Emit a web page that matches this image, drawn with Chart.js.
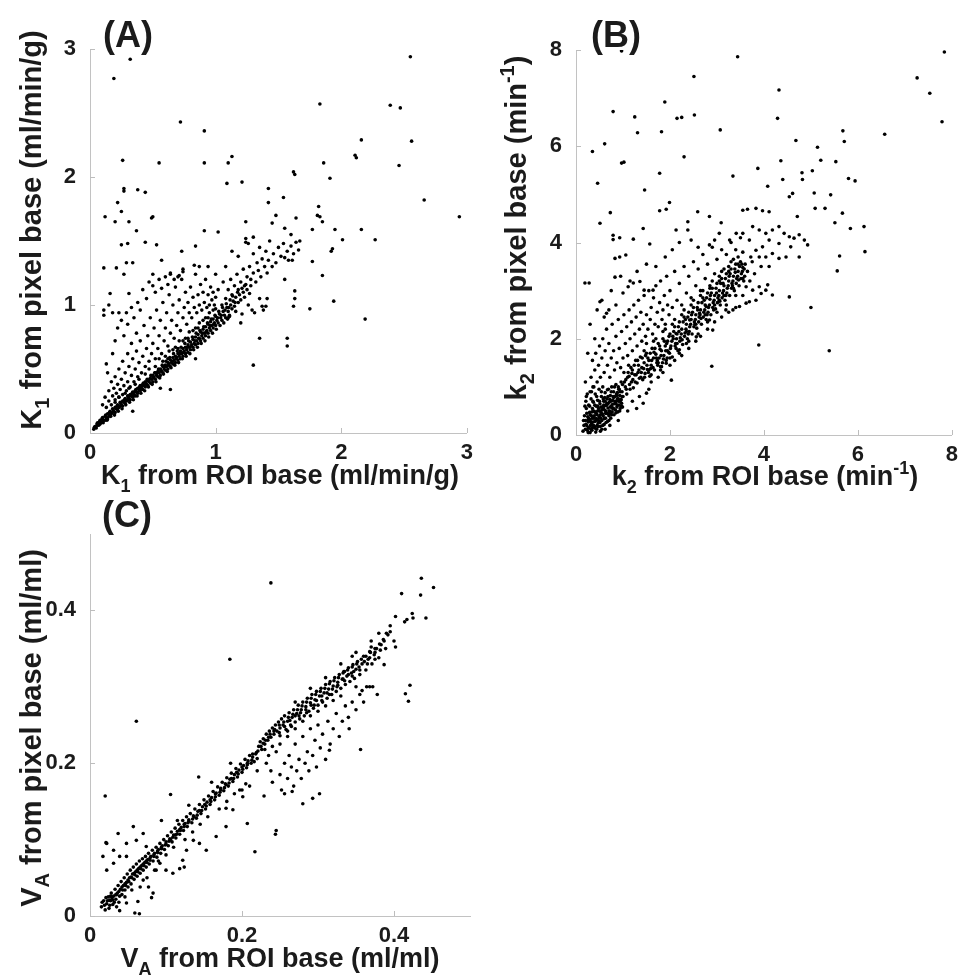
<!DOCTYPE html>
<html>
<head>
<meta charset="utf-8">
<script src="https://cdn.jsdelivr.net/npm/chart.js@4.4.1/dist/chart.umd.min.js"></script>
<style>
  html, body { margin: 0; padding: 0; background: #fff; }
  body { width: 965px; height: 979px; position: relative; overflow: hidden; }
  canvas { position: absolute; }
  #chartA { left: 0; top: 0; }
  #chartB { left: 480px; top: 0; }
  #chartC { left: 0; top: 500px; }
</style>
</head>
<body>
<canvas id="chartA" width="480" height="500"></canvas>
<canvas id="chartB" width="485" height="500"></canvas>
<canvas id="chartC" width="480" height="479"></canvas>
<script>
// tick values
const k1Ticks = [0, 1, 2, 3];
const k2Ticks = [0, 2, 4, 6, 8];
const vaTicks = [0, 0.2, 0.4];

// (A) K1: [ROI base, pixel base]
const k1CorePoints = [
  [0.03,0.03],[0.04,0.05],[0.05,0.04],[0.06,0.06],[0.06,0.08],[0.07,0.06],[0.08,0.07],[0.08,0.1],[0.09,0.08],[0.1,0.09],
  [0.1,0.12],[0.11,0.1],[0.12,0.1],[0.12,0.13],[0.13,0.12],[0.14,0.11],[0.14,0.15],[0.15,0.13],[0.16,0.14],[0.16,0.17],
  [0.17,0.15],[0.18,0.16],[0.18,0.19],[0.19,0.17],[0.2,0.16],[0.2,0.2],[0.21,0.19],[0.22,0.18],[0.22,0.22],[0.23,0.2],
  [0.24,0.21],[0.24,0.24],[0.25,0.22],[0.26,0.21],[0.26,0.25],[0.27,0.24],[0.28,0.23],[0.28,0.27],[0.29,0.25],[0.3,0.26],
  [0.3,0.29],[0.31,0.27],[0.32,0.26],[0.32,0.3],[0.33,0.29],[0.34,0.28],[0.34,0.32],[0.35,0.3],[0.36,0.29],[0.36,0.33],
  [0.37,0.32],[0.38,0.31],[0.38,0.35],[0.39,0.33],[0.4,0.33],[0.4,0.37],[0.41,0.35],[0.42,0.34],[0.42,0.38],[0.43,0.37],
  [0.44,0.36],[0.44,0.4],[0.45,0.38],[0.46,0.37],[0.46,0.41],[0.47,0.4],[0.48,0.39],[0.48,0.43],[0.49,0.42],[0.5,0.4],
  [0.5,0.45],[0.51,0.43],[0.52,0.42],[0.52,0.47],[0.53,0.45],[0.54,0.44],[0.54,0.48],[0.55,0.47],[0.56,0.45],[0.56,0.5],
  [0.57,0.48],[0.58,0.47],[0.58,0.52],[0.59,0.5],[0.6,0.49],[0.6,0.53],[0.61,0.52],[0.62,0.5],[0.62,0.55],[0.63,0.54],
  [0.64,0.52],[0.64,0.57],[0.65,0.55],[0.66,0.54],[0.66,0.59],[0.67,0.57],[0.68,0.55],[0.68,0.6],[0.69,0.59],[0.7,0.57],
  [0.7,0.62],[0.71,0.6],[0.72,0.58],[0.72,0.64],[0.73,0.62],[0.74,0.6],[0.74,0.66],[0.75,0.64],[0.76,0.62],[0.76,0.67],
  [0.77,0.65],[0.78,0.63],[0.78,0.69],[0.79,0.67],[0.8,0.65],[0.8,0.71],[0.81,0.69],[0.82,0.67],[0.82,0.73],[0.83,0.7],
  [0.84,0.69],[0.84,0.75],[0.85,0.72],[0.86,0.7],[0.86,0.77],[0.87,0.74],[0.88,0.72],[0.88,0.79],[0.89,0.76],[0.9,0.74],
  [0.9,0.81],[0.91,0.78],[0.92,0.76],[0.92,0.83],[0.93,0.8],[0.94,0.78],[0.94,0.85],[0.95,0.82],[0.96,0.8],[0.96,0.87],
  [0.97,0.84],[0.98,0.82],[0.98,0.89],[0.99,0.86],[1.0,0.84],[1.0,0.91],[1.01,0.88],[1.02,0.86],[1.03,0.93],[1.04,0.9],
  [1.05,0.88],[1.06,0.95],[1.07,0.92],[1.08,0.9],[1.09,0.98],[1.1,0.95],[1.11,0.92],[1.12,1.0],[1.13,0.97],[1.14,1.03],
  [1.15,0.99],[1.16,1.06],[1.18,1.02],[1.19,1.08],[1.2,1.04],[1.22,1.1],[1.23,1.06],[1.25,1.12],[1.27,1.09],[1.28,1.15]
];
const k1CoreFill = [
  [0.035,0.045],[0.055,0.07],[0.075,0.085],[0.095,0.11],[0.105,0.08],[0.125,0.14],[0.135,0.1],[0.155,0.16],[0.165,0.13],[0.185,0.18],
  [0.195,0.14],[0.215,0.21],[0.225,0.17],[0.245,0.23],[0.255,0.19],[0.275,0.26],[0.285,0.22],[0.305,0.28],[0.315,0.24],[0.335,0.31],
  [0.345,0.26],[0.365,0.34],[0.375,0.29],[0.395,0.36],[0.405,0.31],[0.425,0.39],[0.435,0.33],[0.455,0.42],[0.465,0.36],[0.485,0.45],
  [0.495,0.38],[0.515,0.47],[0.525,0.4],[0.545,0.5],[0.555,0.43],[0.575,0.53],[0.585,0.46],[0.605,0.56],[0.615,0.48],[0.635,0.59],
  [0.645,0.51],[0.665,0.62],[0.675,0.53],[0.695,0.64],[0.705,0.55],[0.725,0.67],[0.735,0.58],[0.755,0.7],[0.765,0.6],[0.785,0.72],
  [0.795,0.62],[0.815,0.75],[0.825,0.65],[0.845,0.78],[0.855,0.67],[0.875,0.8],[0.885,0.7],[0.905,0.83],[0.915,0.72],[0.935,0.86],
  [0.945,0.75],[0.965,0.89],[0.975,0.78],[0.995,0.92],[1.005,0.81],[1.025,0.95],[1.035,0.84],[1.055,0.98],[1.065,0.86],[1.085,1.01],
  [1.095,0.89],[1.115,1.04],[1.135,1.07],[1.155,1.02],[1.175,1.1],[1.21,1.13],[1.24,1.16],[0.52,0.52],[0.6,0.6],[0.68,0.67],
  [0.76,0.74],[0.84,0.82],[0.92,0.9],[1.0,0.97],[0.44,0.46],[0.36,0.38],[0.28,0.31],[0.2,0.24],[0.63,0.64],[0.71,0.72],
  [0.79,0.79],[0.87,0.86],[0.95,0.94],[0.55,0.58],[0.47,0.5],[0.39,0.42],[0.31,0.35],[0.23,0.28],
  [0.315,0.29],[0.355,0.32],[0.395,0.34],[0.415,0.37],[0.445,0.39],[0.475,0.42],[0.505,0.44],[0.535,0.47],[0.565,0.49],[0.595,0.52],
  [0.625,0.53],[0.655,0.56],[0.685,0.58],[0.715,0.62],[0.745,0.63],[0.775,0.67],[0.805,0.68],[0.835,0.72],[0.865,0.74],[0.895,0.78],
  [0.925,0.79],[0.955,0.84],[0.985,0.85],[1.015,0.9],[1.045,0.92],[1.075,0.96],[1.105,0.98],[0.58,0.56],[0.66,0.65],[0.74,0.72],
  [0.82,0.8],[0.9,0.88],[0.98,0.96],[0.62,0.58],[0.7,0.66],[0.78,0.74],[0.86,0.82],[0.94,0.9]
];
const k1SpreadPoints = [
  [0.1,0.22],[0.12,0.28],[0.13,0.2],[0.15,0.25],[0.15,0.33],[0.17,0.22],[0.17,0.4],[0.18,0.29],[0.19,0.35],[0.2,0.26],
  [0.2,0.44],[0.21,0.31],[0.22,0.38],[0.23,0.28],[0.23,0.5],[0.24,0.34],[0.25,0.42],[0.26,0.3],[0.26,0.56],[0.27,0.37],
  [0.28,0.47],[0.29,0.33],[0.3,0.4],[0.3,0.62],[0.31,0.52],[0.32,0.36],[0.33,0.45],[0.33,0.7],[0.34,0.58],[0.35,0.4],
  [0.36,0.5],[0.37,0.64],[0.37,0.78],[0.38,0.44],[0.39,0.55],[0.4,0.72],[0.41,0.47],[0.42,0.6],[0.43,0.84],[0.44,0.52],
  [0.45,0.66],[0.46,0.76],[0.47,0.56],[0.48,0.9],[0.49,0.62],[0.5,0.7],[0.51,0.82],[0.52,0.58],[0.53,0.96],[0.54,0.66],
  [0.55,0.76],[0.56,0.88],[0.57,0.62],[0.58,1.02],[0.59,0.72],[0.6,0.82],[0.61,0.94],[0.62,0.68],[0.63,1.08],[0.64,0.78],
  [0.65,0.88],[0.66,1.0],[0.67,0.74],[0.68,1.14],[0.69,0.84],[0.7,0.94],[0.71,1.04],[0.72,0.8],[0.73,1.2],[0.74,0.9],
  [0.75,0.98],[0.76,1.1],[0.77,0.85],[0.78,1.02],[0.79,0.94],[0.8,1.14],[0.81,0.9],[0.82,1.06],[0.83,0.98],[0.84,1.24],
  [0.85,0.94],[0.86,1.08],[0.87,1.0],[0.88,1.16],[0.89,0.96],[0.9,1.1],[0.91,1.02],[0.92,1.2],[0.93,0.98],[0.94,1.08],
  [0.95,1.0],[0.96,1.14],[0.97,1.04],[0.98,1.1],[0.99,1.0],[1.0,1.06],
  [0.13,0.54],[0.14,0.47],[0.18,0.62],[0.2,0.72],[0.22,0.82],[0.25,0.88],[0.27,0.76],[0.3,0.85],[0.33,0.98],[0.35,0.9],
  [0.38,1.02],[0.4,0.96],[0.42,1.12],[0.45,1.05],[0.47,1.18],[0.5,1.15],[0.52,1.1],[0.55,1.2],[0.57,1.13],[0.6,1.22],
  [0.62,1.16],[0.64,1.25],[0.67,1.2],[0.7,1.22],[0.74,1.28],
  [1.02,1.12],[1.05,1.0],[1.06,1.18],[1.08,1.05],[1.1,1.12],[1.1,0.9],[1.12,1.2],[1.13,1.08],[1.15,1.15],[1.16,0.95],
  [1.17,1.24],[1.18,1.12],[1.2,1.18],[1.21,0.93],[1.22,1.28],[1.23,1.15],[1.25,1.22],[1.26,1.0],[1.27,1.3],[1.28,1.2],
  [1.3,1.25],[1.3,1.4],[1.31,0.94],[1.32,1.18],[1.33,1.33],[1.34,1.27],[1.35,1.45],[1.36,1.22],[1.37,1.36],[1.38,0.96],
  [1.39,1.3],[1.4,1.42],[1.41,1.25],[1.42,1.35],[1.43,1.5],[1.45,1.3],[1.46,1.4],[1.48,1.33],[1.5,1.45],[1.52,1.38],
  [1.54,1.48],[1.55,1.2],[1.57,1.42],[1.58,1.35],[1.6,1.46],[1.62,1.4],[1.64,1.49],[1.24,1.52],[1.26,1.48],[1.13,1.42],
  [1.18,1.38],[1.08,1.3],[1.0,1.24],[1.29,0.96],[1.37,0.99],[1.4,0.99],[1.41,1.05],[1.35,1.05],[1.11,0.91],[1.2,0.86]
];
const k1OutlierPoints = [
  [0.32,2.92],[0.19,2.77],[2.55,2.94],[1.83,2.57],[2.39,2.56],[2.47,2.54],[0.72,2.43],[0.91,2.36],[2.16,2.29],[2.56,2.28],
  [2.11,2.17],[2.12,2.15],[0.26,2.13],[0.55,2.11],[0.91,2.11],[1.1,2.11],[1.13,2.16],[1.86,2.11],[2.46,2.09],[1.62,2.04],
  [1.63,2.02],[1.91,1.99],[1.09,1.95],[1.21,1.96],[0.27,1.91],[0.27,1.89],[0.38,1.9],[0.44,1.88],[1.42,1.91],[1.54,1.84],
  [2.66,1.82],[0.22,1.8],[1.42,1.8],[1.82,1.77],[0.25,1.73],[1.48,1.7],[0.12,1.69],[0.49,1.68],[0.5,1.69],[1.64,1.68],
  [1.83,1.69],[1.81,1.7],[2.94,1.69],[0.2,1.65],[0.31,1.65],[1.24,1.65],[1.45,1.64],[1.85,1.65],[1.55,1.6],[1.77,1.59],
  [0.91,1.58],[1.02,1.57],[1.95,1.59],[2.16,1.59],[0.37,1.58],[2.27,1.51],[2.01,1.51],[0.44,1.49],[0.53,1.47],[0.25,1.47],
  [0.3,1.48],[1.24,1.49],[1.3,1.53],[0.84,1.46],[0.73,1.42],[1.92,1.42],[1.93,1.44],[0.57,1.35],[0.29,1.33],[0.34,1.33],
  [1.77,1.34],[0.83,1.31],[0.87,1.3],[0.94,1.3],[0.11,1.29],[0.21,1.29],[0.27,1.24],[0.64,1.24],[0.71,1.23],[0.74,1.26],
  [0.5,1.24],[1.85,1.23],[1.94,1.03],[1.75,0.97],[2.19,0.89],[1.35,0.74],[1.57,0.74],[1.57,0.68],[1.3,0.53],[0.84,0.58],
  [0.56,0.35],[0.64,0.34],[0.34,0.17],[0.11,0.96],[0.11,0.92],[0.15,1.0],[0.18,0.94],[0.23,0.94],[0.29,0.94],[0.16,1.09],
  [0.31,1.09],[1.63,1.11],[1.63,1.05],[1.62,0.99],[1.61,1.35],[1.55,1.37],[1.66,1.43],[1.67,1.5],[1.6,1.55]
];

// (B) k2: [ROI base, pixel base]
const k2BlobPoints = [
  [0.15,0.08],[0.17,0.2],[0.18,0.4],[0.2,0.12],[0.2,0.3],[0.22,0.55],[0.23,0.2],[0.24,0.1],[0.25,0.38],[0.26,0.27],
  [0.27,0.62],[0.28,0.15],[0.29,0.47],[0.3,0.32],[0.31,0.2],[0.32,0.75],[0.33,0.4],[0.34,0.1],[0.35,0.55],[0.36,0.27],
  [0.37,0.68],[0.38,0.35],[0.39,0.18],[0.4,0.48],[0.41,0.85],[0.42,0.3],[0.43,0.6],[0.44,0.12],[0.45,0.42],[0.46,0.72],
  [0.47,0.25],[0.48,0.55],[0.49,0.95],[0.5,0.36],[0.51,0.65],[0.52,0.18],[0.53,0.48],[0.54,0.8],[0.55,0.3],[0.56,0.58],
  [0.57,1.0],[0.58,0.4],[0.59,0.7],[0.6,0.22],[0.61,0.52],[0.62,0.88],[0.63,0.35],[0.64,0.62],[0.65,0.45],[0.66,0.75],
  [0.67,0.28],[0.68,0.56],[0.69,0.95],[0.7,0.4],[0.71,0.68],[0.72,0.5],[0.73,0.82],[0.74,0.35],[0.75,0.6],[0.76,1.0],
  [0.77,0.48],[0.78,0.72],[0.79,0.56],[0.8,0.9],[0.81,0.42],[0.82,0.65],[0.83,0.8],[0.84,0.52],[0.85,1.05],[0.86,0.7],
  [0.87,0.58],[0.88,0.88],[0.89,0.48],[0.9,0.75],[0.91,0.95],[0.92,0.62],[0.93,0.82],[0.94,0.55],[0.95,0.72],[0.96,1.1],
  [0.97,0.66],[0.98,0.9],[0.99,0.58],[0.21,0.7],[0.24,0.85],[0.19,0.6],[0.16,0.3],[0.33,0.9],[0.36,1.0],[0.3,0.05],
  [0.42,0.06],[0.52,0.08],[0.62,0.12],[0.72,0.2],[0.35,0.15],[0.45,0.2],[0.55,0.12],[0.26,0.05]
];
const k2BandPoints = [
  [1.0,0.8],[1.02,1.3],[1.05,1.0],[1.08,0.85],[1.1,1.2],[1.12,1.45],[1.15,0.95],[1.18,1.1],[1.2,1.35],[1.22,0.98],
  [1.25,1.25],[1.27,1.55],[1.3,1.08],[1.32,1.3],[1.35,1.18],[1.37,1.62],[1.4,1.4],[1.42,1.15],[1.45,1.5],[1.47,1.28],
  [1.5,1.7],[1.52,1.36],[1.55,1.55],[1.57,1.22],[1.6,1.45],[1.62,1.8],[1.65,1.6],[1.67,1.35],[1.7,1.68],[1.72,1.5],
  [1.75,1.9],[1.77,1.6],[1.8,1.42],[1.82,1.75],[1.85,2.0],[1.87,1.65],[1.9,1.85],[1.92,1.55],[1.95,1.95],[1.97,1.72],
  [2.0,2.1],[2.02,1.85],[2.05,1.62],[2.07,2.0],[2.1,2.25],[2.12,1.9],[2.15,2.1],[2.17,1.75],[2.2,2.35],[2.22,2.02],
  [2.25,2.2],[2.27,1.88],[2.3,2.45],[2.32,2.12],[2.35,2.3],[2.37,2.0],[2.4,2.55],[2.42,2.25],[2.45,2.4],[2.47,2.1],
  [2.5,2.65],[2.52,2.35],[2.55,2.5],[2.57,2.22],[2.6,2.75],[2.62,2.45],[2.65,2.6],[2.67,2.3],[2.7,2.85],[2.72,2.55],
  [2.75,2.7],[2.77,2.4],[2.8,2.95],[2.82,2.65],[2.85,2.82],[2.87,2.5],[2.9,3.05],[2.92,2.75],[2.95,2.9],[2.97,2.62],
  [3.0,3.15],[3.02,2.85],[3.05,3.0],[3.07,2.7],[3.1,3.25],[3.12,2.95],[3.15,3.1],[3.17,2.8],[3.2,3.35],[3.22,3.05],
  [3.25,3.2],[3.27,2.9],[3.3,3.45],[3.32,3.15],[3.35,3.3],[3.37,3.0],[3.4,3.55],[3.42,3.25],[3.45,3.4],[3.47,3.1],
  [3.5,3.6],[3.52,3.35],[3.55,3.48],[3.57,3.2],[3.6,3.55]
];
const k2Fill = [
  [0.21,0.22],[0.23,0.45],[0.26,0.15],[0.27,0.35],[0.29,0.6],[0.31,0.28],[0.32,0.12],[0.34,0.48],[0.36,0.7],[0.37,0.2],
  [0.39,0.4],[0.4,0.62],[0.41,0.14],[0.43,0.34],[0.44,0.8],[0.46,0.5],[0.47,0.17],[0.49,0.38],[0.5,0.7],[0.51,0.26],
  [0.53,0.58],[0.54,0.9],[0.56,0.44],[0.57,0.2],[0.59,0.62],[0.6,0.34],[0.61,0.78],[0.63,0.5],[0.64,0.26],[0.66,0.66],
  [0.67,0.94],[0.69,0.44],[0.7,0.3],[0.72,0.74],[0.73,0.58],[0.75,0.9],[0.76,0.42],[0.78,0.64],[0.79,0.8],[0.81,0.54],
  [0.82,1.0],[0.84,0.66],[0.85,0.46],[0.87,0.82],[0.88,0.62],[0.9,1.0],[0.91,0.7],[0.93,0.5],[0.94,0.9],[0.96,0.74],
  [0.97,0.6],[0.99,1.05],[0.28,0.3],[0.33,0.25],[0.38,0.5],[0.43,0.45],[0.48,0.3],[0.53,0.35],[0.58,0.55],[0.63,0.45],
  [0.68,0.65],[0.73,0.45],[0.78,0.55],[0.83,0.7],[0.88,0.75],[0.93,0.7],[0.25,0.3],[0.3,0.42],[0.35,0.35],[0.4,0.28],
  [0.45,0.32],[0.5,0.5],[0.55,0.52],[0.6,0.6],[0.65,0.62],[0.7,0.5],
  [1.03,1.1],[1.07,0.95],[1.11,1.3],[1.14,1.05],[1.17,1.4],[1.21,1.15],[1.24,1.45],[1.28,1.25],[1.31,1.55],[1.34,1.35],
  [1.38,1.2],[1.41,1.6],[1.44,1.38],[1.48,1.65],[1.51,1.45],[1.54,1.3],[1.58,1.7],[1.61,1.55],[1.64,1.4],[1.68,1.8],
  [1.71,1.6],[1.74,1.45],[1.78,1.85],[1.81,1.65],[1.84,1.5],[1.88,1.95],[1.91,1.75],[1.94,1.6],[1.98,2.05],[2.01,1.8],
  [2.04,1.95],[2.08,2.15],[2.11,1.85],[2.14,2.0],[2.18,2.25],[2.21,1.95],[2.24,2.1],[2.28,2.35],[2.31,2.05],[2.34,2.2],
  [2.38,2.45],[2.41,2.15],[2.44,2.3],[2.48,2.55],[2.51,2.25],[2.54,2.4],[2.58,2.65],[2.61,2.35],[2.64,2.5],[2.68,2.75],
  [2.71,2.45],[2.74,2.6],[2.78,2.85],[2.81,2.55],[2.84,2.7],[2.88,2.95],[2.91,2.65],[2.94,2.8],[2.98,3.05],[3.01,2.75],
  [3.04,2.9],[3.08,3.15],[3.11,2.85],[3.14,3.0],[3.18,3.25],[3.21,2.95],[3.24,3.1],[3.28,3.35],[3.31,3.05],[3.34,3.2],
  [3.38,3.45],[3.41,3.15],[3.44,3.3],[3.48,3.5],[3.51,3.25],[3.54,3.4],[3.58,3.45],[1.5,1.9],[1.7,2.0],[1.9,2.2],
  [2.1,2.4],[2.3,2.6],[2.5,2.8],[2.7,3.0],[2.9,3.2],[3.1,3.4],[3.3,3.6],[1.6,1.25],[1.8,1.35],[2.0,1.6],
  [2.2,1.7],[2.4,1.95],[2.6,2.1],[2.8,2.35],[3.0,2.55],[3.2,2.7],[3.4,2.9],
  [1.06,1.15],[1.13,1.22],[1.19,1.28],[1.26,1.1],[1.33,1.45],[1.39,1.3],[1.46,1.2],[1.53,1.6],[1.59,1.38],[1.66,1.72],
  [1.73,1.55],[1.79,1.78],[1.86,1.58],[1.93,1.9],[1.99,1.7],[2.06,2.05],[2.13,1.8],[2.19,2.15],[2.26,1.98],[2.33,2.4],
  [2.39,2.1],[2.46,2.5],[2.53,2.3],[2.59,2.6],[2.66,2.42],[2.73,2.8],[2.79,2.5],[2.86,2.9],[2.93,2.6],[2.99,2.95],
  [3.06,2.78],[3.13,3.15],[3.19,2.9],[3.26,3.3],[3.33,3.1],[3.39,3.38],[3.46,3.22],[3.53,3.55],[3.59,3.3],[1.45,1.75],
  [1.65,1.95],[1.85,2.15],[2.05,2.3],[2.25,2.5],[2.45,2.7],[2.65,2.9],[2.85,3.05],[3.05,3.2],[3.25,3.4],[3.45,3.55],
  [1.55,1.35],[1.75,1.5],[1.95,1.75],[2.15,1.9],[2.35,2.15],[2.55,2.3],[2.75,2.5],[2.95,2.7],[3.15,2.9],[3.35,3.05],
  [3.55,3.25],[0.62,0.7],[0.68,0.8],[0.74,0.7],[0.8,0.78],[0.86,0.85],[0.92,0.95],[0.98,0.8],[0.58,0.75],[0.52,0.42],
  [0.46,0.6]
];
const k2SpreadPoints = [
  [0.3,0.9],[0.32,1.2],[0.35,1.55],[0.38,1.0],[0.4,1.35],[0.42,1.7],[0.45,1.1],[0.48,1.45],[0.5,1.85],[0.52,1.2],
  [0.55,1.6],[0.57,2.0],[0.6,1.3],[0.62,1.75],[0.65,2.2],[0.67,1.45],[0.7,1.9],[0.72,1.2],[0.75,1.6],[0.77,2.3],
  [0.8,1.75],[0.82,1.35],[0.85,2.05],[0.87,1.5],[0.9,2.4],[0.92,1.8],[0.95,1.4],[0.97,2.15],[1.0,1.6],[1.02,2.5],
  [1.05,1.9],[1.08,2.25],[1.1,1.65],[1.13,2.6],[1.15,2.0],[1.18,2.35],[1.2,1.75],[1.23,2.7],[1.25,2.1],[1.28,2.45],
  [1.3,1.85],[1.33,2.8],[1.35,2.2],[1.38,2.55],[1.4,1.95],[1.43,2.3],[1.45,2.9],[1.48,2.05],[1.5,2.5],[1.53,2.2],
  [1.55,3.0],[1.58,2.4],[1.6,2.65],[1.63,2.1],[1.65,2.85],[1.68,2.3],[1.7,3.1],[1.73,2.55],[1.75,2.25],[1.78,2.75],
  [1.8,3.2],[1.83,2.4],[1.85,2.6],[1.88,2.9],[1.9,2.3],[1.93,3.3],[1.95,2.7],[1.98,2.5],[2.0,3.0],[2.05,2.65],
  [2.1,3.4],[2.15,2.8],[2.2,3.15],[2.25,2.7],[2.3,3.5],[2.35,2.95],[2.4,3.3],[2.45,2.85],[2.5,3.6],[2.55,3.1],
  [2.6,3.45],[2.65,3.0],[2.7,3.75],[2.75,3.25],[2.8,3.55],[2.85,3.1],[2.9,3.9],[2.95,3.35],[3.0,3.65],[3.05,3.3],
  [3.1,3.85],[3.15,3.45],[3.2,3.75],[3.25,3.5],[3.3,4.0],[3.35,3.65],[3.4,3.85],[3.45,3.7],[3.5,4.1],[3.55,3.8],
  [0.25,1.7],[0.3,2.3],[0.45,2.6],[0.6,2.45],[0.4,2.0],[0.55,2.8],[0.7,2.6],[0.85,2.7],[0.75,3.0],[1.0,2.95],
  [1.15,3.2],[0.95,3.3],[1.3,3.4],[1.5,3.55],[1.7,3.5],[1.9,3.7],[2.05,3.85],[2.2,4.0],[2.45,4.05],[2.6,3.9],
  [0.2,1.1],[0.22,0.8],
  [0.9,0.3],[1.1,0.5],[1.2,0.7],[1.35,0.8],[1.55,0.95],[1.6,1.1],[1.75,1.2],[1.85,1.3],[2.0,1.45],[2.1,1.55],
  [2.25,1.65],[2.4,1.8],[2.55,1.95],[2.65,2.05],[2.8,2.2],[2.95,2.35],[3.1,2.45],[3.25,2.55],[3.4,2.65],[3.55,2.9],
  [3.7,3.2],[3.8,3.35],[3.65,3.4],[3.75,3.6],[3.9,3.7],
  [3.55,4.67],[3.65,4.69],[3.83,4.71],[3.97,4.66],[4.11,4.64],[3.76,4.33],[3.9,4.26],[4.04,4.19],[4.18,4.26],[4.32,4.33],
  [4.43,4.19],[4.54,4.12],[4.64,4.09],[4.75,4.16],[4.86,4.05],[4.93,3.95],[4.57,3.91],[4.32,3.98],[4.11,4.05],[3.97,3.91],
  [3.83,3.84],[3.72,3.7],[4.04,3.7],[4.18,3.77],[3.94,3.5],[4.11,3.5],[4.32,3.67],[4.47,3.7],[4.75,3.7],[3.69,4.05],
  [3.55,4.19],[3.41,4.19],[3.27,4.05],[3.05,4.19],[2.95,4.05],[2.84,3.95],
  [2.91,2.18],[2.84,2.39],[3.19,2.6],[3.34,2.6],[3.48,2.67],[3.62,2.74],[3.69,2.77],[3.83,2.8],[3.94,2.94],[4.04,3.01],
  [4.18,2.91],[4.08,3.12],[3.9,3.08],[3.76,3.01],[3.62,3.08],[2.56,2.04],[2.35,1.9],[2.2,1.77],[2.03,1.14],[1.92,1.49],
  [1.82,1.42],[1.5,0.87],[1.43,0.66],[1.29,0.55],[2.13,2.11],[2.42,2.39],[2.63,2.53],[3.05,2.8],[2.77,2.67]
];
const k2OutlierPoints = [
  [0.97,7.98],[3.44,7.86],[7.84,7.96],[2.51,7.45],[7.26,7.42],[7.53,7.1],[4.32,7.17],[1.89,6.92],[0.79,6.72],[1.25,6.61],
  [2.15,6.58],[2.25,6.6],[2.52,6.65],[4.29,6.58],[7.79,6.51],[3.07,6.34],[1.31,6.28],[1.82,6.3],[5.68,6.32],[6.57,6.25],
  [5.71,6.1],[4.68,6.12],[0.35,5.89],[0.61,6.05],[5.14,5.98],[0.97,5.65],[1.02,5.67],[2.3,5.78],[4.36,5.7],[5.21,5.71],
  [5.53,5.68],[3.87,5.54],[1.78,5.44],[4.81,5.45],[5.03,5.49],[3.34,5.38],[5.8,5.33],[5.94,5.28],[0.46,5.23],[4.4,5.31],
  [4.82,5.31],[4.08,5.17],[1.46,5.09],[5.07,5.03],[5.42,4.99],[4.54,4.95],[4.61,5.02],[1.99,4.83],[0.51,4.4],[0.73,4.62],
  [1.78,4.66],[1.92,4.69],[5.09,4.71],[5.3,4.71],[5.67,4.61],[2.59,4.64],[2.84,4.54],[4.71,4.54],[5.51,4.41],[5.84,4.29],
  [6.13,4.33],[1.43,4.29],[2.13,4.26],[2.38,4.26],[2.38,4.43],[3.09,4.41],[6.15,3.81],[5.61,3.72],[5.56,3.41],[0.19,3.16],
  [0.28,3.16],[0.51,2.77],[4.54,2.87],[5.0,2.65],[3.89,1.87],[5.39,1.75],[2.89,1.43],[0.79,4.15],[0.93,4.1],[0.79,4.06],
  [1.22,4.07],[1.57,3.97],[0.93,3.7],[0.83,3.67],[1.06,3.74],[0.83,3.28],[1.22,3.16],[1.36,3.19],[1.11,3.08],[1.45,3.01],
  [1.64,3.01],[0.65,2.53]
];

// (C) VA: [ROI base, pixel base]
const vaBandPoints = [
  [0.015,0.012],[0.018,0.02],[0.02,0.008],[0.022,0.016],[0.024,0.025],[0.025,0.01],[0.027,0.02],[0.028,0.03],[0.03,0.015],[0.031,0.026],
  [0.033,0.035],[0.034,0.022],[0.036,0.03],[0.037,0.04],[0.038,0.018],[0.04,0.035],[0.041,0.045],[0.042,0.028],[0.044,0.04],[0.045,0.05],
  [0.046,0.034],[0.048,0.044],[0.049,0.055],[0.05,0.038],[0.052,0.05],[0.053,0.06],[0.054,0.042],[0.056,0.055],[0.057,0.064],[0.058,0.048],
  [0.06,0.058],[0.061,0.068],[0.062,0.052],[0.064,0.062],[0.065,0.072],[0.066,0.056],[0.068,0.066],[0.069,0.075],[0.07,0.06],[0.072,0.07],
  [0.073,0.078],[0.074,0.064],[0.076,0.074],[0.077,0.082],[0.078,0.068],[0.08,0.078],[0.082,0.086],[0.083,0.072],[0.085,0.082],[0.087,0.09],
  [0.088,0.077],[0.09,0.087],[0.092,0.095],[0.093,0.082],[0.095,0.092],[0.097,0.1],[0.098,0.087],[0.1,0.097],[0.102,0.105],[0.103,0.092],
  [0.105,0.101],[0.107,0.11],[0.108,0.097],[0.11,0.106],[0.112,0.115],[0.113,0.102],[0.115,0.111],[0.117,0.12],[0.118,0.107],[0.12,0.116],
  [0.122,0.125],[0.123,0.112],[0.125,0.121],[0.127,0.13],[0.128,0.117],[0.13,0.126],[0.132,0.134],[0.134,0.122],[0.136,0.131],[0.138,0.14],
  [0.14,0.128],[0.142,0.137],[0.144,0.146],[0.146,0.134],[0.148,0.143],[0.15,0.152],[0.152,0.14],[0.154,0.149],[0.156,0.157],[0.158,0.146],
  [0.16,0.155],[0.162,0.163],[0.164,0.152],[0.166,0.161],[0.168,0.169],[0.17,0.158],[0.172,0.167],[0.174,0.175],[0.176,0.164],[0.178,0.173],
  [0.18,0.181],[0.182,0.17],[0.184,0.179],[0.186,0.187],[0.188,0.176],[0.19,0.185],[0.192,0.193],[0.194,0.182],[0.196,0.191],[0.198,0.199],
  [0.2,0.188],[0.202,0.197],[0.204,0.205],[0.206,0.194],[0.208,0.203],[0.21,0.21],[0.212,0.2],[0.214,0.208],[0.216,0.202],[0.218,0.212],
  [0.22,0.206],[0.222,0.222],[0.224,0.228],[0.226,0.218],[0.228,0.232],[0.23,0.225],[0.232,0.238],[0.234,0.23],[0.236,0.242],[0.238,0.234],
  [0.24,0.246],[0.242,0.238],[0.244,0.25],[0.246,0.242],[0.248,0.254],[0.25,0.246],[0.252,0.258],[0.254,0.25],[0.256,0.262],[0.258,0.244],
  [0.26,0.255],[0.262,0.266],[0.264,0.25],[0.266,0.26],[0.268,0.27],[0.27,0.254],[0.272,0.265],[0.274,0.276],[0.276,0.258],[0.278,0.27],
  [0.28,0.28],[0.282,0.262],[0.284,0.274],[0.286,0.285],[0.288,0.268],[0.29,0.279],[0.292,0.29],[0.294,0.272],[0.296,0.283],[0.298,0.294],
  [0.3,0.276],[0.302,0.288],[0.304,0.298],[0.306,0.28],[0.308,0.292],[0.31,0.303],[0.312,0.285],[0.314,0.297],[0.316,0.307],[0.318,0.29],
  [0.32,0.301],[0.322,0.312],[0.324,0.294],[0.326,0.306],[0.328,0.316],[0.33,0.298],[0.332,0.31],[0.334,0.32],[0.336,0.303],[0.338,0.314],
  [0.34,0.325],[0.342,0.307],[0.344,0.318],[0.346,0.329],[0.348,0.311],[0.35,0.323],[0.352,0.333],[0.355,0.316],[0.358,0.33],[0.36,0.34],
  [0.363,0.322],[0.366,0.336],[0.368,0.346],[0.371,0.33],[0.374,0.342],[0.377,0.35],[0.38,0.338],[0.383,0.355],[0.386,0.362],[0.389,0.35],
  [0.392,0.368],[0.395,0.372]
];
const vaBandFill = [
  [0.016,0.018],[0.021,0.024],[0.026,0.014],[0.029,0.024],[0.032,0.018],[0.035,0.028],[0.039,0.026],[0.043,0.034],[0.047,0.04],[0.051,0.045],
  [0.055,0.05],[0.059,0.054],[0.063,0.058],[0.067,0.062],[0.071,0.066],[0.075,0.07],[0.079,0.073],[0.084,0.078],[0.089,0.083],[0.094,0.088],
  [0.099,0.093],[0.104,0.098],[0.109,0.103],[0.114,0.107],[0.119,0.112],[0.124,0.117],[0.129,0.122],[0.135,0.127],[0.141,0.132],[0.147,0.138],
  [0.153,0.144],[0.159,0.15],[0.165,0.156],[0.171,0.162],[0.177,0.168],[0.183,0.174],[0.189,0.18],[0.195,0.186],[0.201,0.192],[0.207,0.198],
  [0.213,0.204],[0.219,0.214],[0.225,0.222],[0.231,0.23],[0.237,0.238],[0.243,0.244],[0.249,0.25],[0.255,0.254],[0.261,0.26],[0.267,0.264],
  [0.273,0.27],[0.279,0.275],[0.285,0.28],[0.291,0.285],[0.297,0.29],[0.303,0.294],[0.309,0.298],[0.315,0.304],[0.321,0.308],[0.327,0.312],
  [0.333,0.318],[0.339,0.322],[0.345,0.326],[0.351,0.33],[0.357,0.336],[0.363,0.34],[0.369,0.345],[0.375,0.35],[0.381,0.356],[0.387,0.36],
  [0.265,0.248],[0.275,0.262],[0.285,0.266],[0.295,0.276],[0.305,0.282],[0.315,0.29],[0.325,0.3],[0.335,0.308],[0.345,0.314],[0.355,0.322],
  [0.365,0.33],[0.375,0.336],[0.27,0.28],[0.29,0.298],[0.31,0.312],[0.33,0.33],[0.35,0.345],[0.37,0.352],[0.24,0.222],[0.25,0.236],
  [0.23,0.218],[0.26,0.242],
  [0.019,0.014],[0.023,0.02],[0.027,0.026],[0.03,0.021],[0.034,0.028],[0.038,0.032],[0.042,0.038],[0.046,0.042],[0.05,0.047],[0.054,0.051],
  [0.058,0.056],[0.062,0.06],[0.066,0.064],[0.07,0.068],[0.074,0.072],[0.079,0.076],[0.084,0.08],[0.089,0.085],[0.094,0.09],[0.1,0.094],
  [0.106,0.1],[0.112,0.106],[0.118,0.113],[0.124,0.12],[0.13,0.124],[0.137,0.13],[0.144,0.138],[0.151,0.146],[0.158,0.152],[0.165,0.16],
  [0.172,0.165],[0.179,0.172],[0.186,0.18],[0.193,0.188],[0.2,0.195],[0.207,0.2],[0.214,0.212],[0.221,0.216],[0.228,0.226],[0.235,0.234],
  [0.242,0.242],[0.249,0.24],[0.256,0.248],[0.263,0.256],[0.27,0.262],[0.277,0.266],[0.284,0.27],[0.291,0.276],[0.298,0.282],[0.305,0.288],
  [0.312,0.292],[0.319,0.297],[0.326,0.302],[0.333,0.31],[0.34,0.316],[0.347,0.32],[0.354,0.326],[0.361,0.333],[0.368,0.338],[0.375,0.345],
  [0.382,0.348]
];
const vaSpreadPoints = [
  [0.232,0.2],[0.238,0.19],[0.24,0.175],[0.245,0.215],[0.25,0.185],[0.252,0.165],[0.256,0.2],[0.26,0.18],[0.262,0.21],[0.265,0.195],
  [0.268,0.17],[0.27,0.225],[0.272,0.19],[0.275,0.205],[0.278,0.18],[0.28,0.235],[0.283,0.2],[0.286,0.215],[0.288,0.19],[0.29,0.245],
  [0.293,0.21],[0.296,0.23],[0.298,0.195],[0.3,0.25],[0.303,0.22],[0.306,0.238],[0.31,0.205],[0.313,0.255],[0.316,0.225],[0.32,0.245],
  [0.324,0.265],[0.328,0.235],[0.332,0.255],[0.336,0.275],[0.34,0.26],[0.345,0.28],[0.35,0.27],[0.355,0.29],[0.36,0.28],[0.368,0.3],
  [0.26,0.235],[0.27,0.245],[0.28,0.255],[0.29,0.262],[0.3,0.268],[0.31,0.275],[0.32,0.282],[0.33,0.288],[0.25,0.225],[0.235,0.21],
  [0.22,0.19],[0.21,0.17],[0.2,0.165],[0.19,0.16],[0.18,0.15],[0.17,0.14],[0.155,0.13],[0.145,0.12],[0.135,0.11],[0.125,0.1],
  [0.11,0.09],[0.1,0.08],[0.09,0.072],[0.085,0.06],[0.075,0.05],[0.115,0.125],[0.13,0.145],[0.16,0.175],[0.185,0.2],
  [0.022,0.095],[0.031,0.086],[0.037,0.108],[0.039,0.078],[0.048,0.095],[0.057,0.117],[0.061,0.099],[0.07,0.108],[0.074,0.091],[0.048,0.078],
  [0.031,0.069],[0.022,0.06],[0.07,0.047],[0.077,0.038],[0.083,0.03],[0.081,0.024],[0.063,0.019],[0.059,0.004],[0.065,0.003],[0.039,0.007],
  [0.048,0.017],[0.055,0.034],[0.066,0.038],[0.046,0.025],[0.026,0.021],[0.035,0.012],[0.017,0.078],[0.087,0.06],[0.092,0.069],[0.1,0.06],
  [0.109,0.056],[0.122,0.073],[0.144,0.095],[0.166,0.104],[0.179,0.117],[0.153,0.086],[0.136,0.099],[0.127,0.086],[0.188,0.139],[0.201,0.156],
  [0.179,0.141],[0.205,0.173],[0.197,0.165]
];
const vaOutlierPoints = [
  [0.238,0.436],[0.436,0.442],[0.452,0.43],[0.41,0.422],[0.435,0.42],[0.442,0.39],[0.424,0.396],[0.425,0.39],[0.402,0.392],[0.414,0.385],
  [0.417,0.388],[0.402,0.352],[0.387,0.329],[0.184,0.336],[0.378,0.29],[0.372,0.3],[0.364,0.3],[0.421,0.302],[0.415,0.291],[0.419,0.281],
  [0.358,0.295],[0.356,0.218],[0.341,0.245],[0.315,0.217],[0.061,0.255],[0.02,0.157],[0.143,0.182],[0.302,0.16],[0.293,0.154],[0.28,0.147],
  [0.256,0.16],[0.266,0.163],[0.229,0.157],[0.207,0.121],[0.217,0.084],[0.245,0.112],[0.244,0.107],[0.106,0.159],[0.094,0.125],[0.118,0.062],
  [0.124,0.064],[0.021,0.096],[0.395,0.38],[0.39,0.37],[0.4,0.36],[0.38,0.37],[0.37,0.36],[0.345,0.34],[0.35,0.3],[0.335,0.32]
];

const FONT = '"Liberation Sans", Arial, Helvetica, sans-serif';
const INK = '#1b1b1b';

function drawRich(ctx, item) {
  const small = Math.round(item.size * 0.68);
  const widths = item.parts.map((p) => {
    ctx.font = 'bold ' + (p.sub || p.sup ? small : item.size) + 'px ' + FONT;
    return ctx.measureText(p.t).width;
  });
  const total = widths.reduce((a, b) => a + b, 0);
  ctx.save();
  ctx.translate(item.x, item.y);
  if (item.rotate) ctx.rotate(-Math.PI / 2);
  ctx.textAlign = 'left';
  ctx.textBaseline = 'alphabetic';
  let x = -total / 2;
  item.parts.forEach((p, i) => {
    ctx.font = 'bold ' + (p.sub || p.sup ? small : item.size) + 'px ' + FONT;
    const dy = p.sub ? item.size * 0.28 : p.sup ? -item.size * 0.42 : 0;
    ctx.fillText(p.t, x, dy);
    x += widths[i];
  });
  ctx.restore();
}

function textPlugin(items) {
  return {
    id: 'panelText',
    afterDraw(chart) {
      const ctx = chart.ctx;
      const { left, bottom } = chart.chartArea;
      const xs = chart.scales.x;
      const ys = chart.scales.y;
      ctx.save();
      ctx.strokeStyle = '#bdbdbd';
      ctx.lineWidth = 1;
      xs.ticks.forEach((t) => {
        const px = Math.round(xs.getPixelForValue(t.value)) + 0.5;
        ctx.beginPath();
        ctx.moveTo(px, bottom);
        ctx.lineTo(px, bottom - 5);
        ctx.stroke();
      });
      ys.ticks.forEach((t) => {
        const py = Math.round(ys.getPixelForValue(t.value)) + 0.5;
        ctx.beginPath();
        ctx.moveTo(left, py);
        ctx.lineTo(left + 5, py);
        ctx.stroke();
      });
      ctx.fillStyle = INK;
      items.forEach((item) => drawRich(ctx, item));
      ctx.restore();
    },
  };
}

function axis(max, tickValues, isY, fit) {
  return {
    type: 'linear',
    min: 0,
    max: max,
    afterBuildTicks: (s) => {
      s.ticks = tickValues.map((v) => ({ value: v }));
    },
    afterFit: (s) => {
      if (isY) s.width = fit;
      else s.height = fit;
    },
    grid: { display: true, drawOnChartArea: false, drawTicks: false },
    border: { display: true, color: '#c2c2c2', width: 1 },
    ticks: {
      color: INK,
      font: { family: FONT, size: 22, weight: 'bold' },
      padding: isY ? 14 : 7,
      autoSkip: false,
      maxRotation: 0,
      callback: (v) => String(v),
    },
  };
}

function dots(points) {
  return {
    data: points.map((p) => ({ x: p[0], y: p[1] })),
    pointRadius: 1.8,
    pointHoverRadius: 1.8,
    pointBorderWidth: 0,
    pointBackgroundColor: '#000',
    showLine: false,
  };
}

function makePanel(id, sets, xAxis, yAxis, padding, items) {
  const ctx = document.getElementById(id).getContext('2d');
  return new Chart(ctx, {
    type: 'scatter',
    data: { datasets: sets.map(dots) },
    options: {
      responsive: false,
      animation: false,
      layout: { padding: padding },
      plugins: { legend: { display: false }, tooltip: { enabled: false } },
      scales: { x: xAxis, y: yAxis },
    },
    plugins: [textPlugin(items)],
  });
}

makePanel('chartA', [k1CorePoints, k1CoreFill, k1SpreadPoints, k1OutlierPoints],
  axis(3, k1Ticks, false, 67), axis(3, k1Ticks, true, 90),
  { left: 0, top: 49, right: 11, bottom: 0 },
  [
    { x: 128, y: 47, size: 36, parts: [{ t: '(A)' }] },
    { x: 280, y: 484, size: 27, parts: [{ t: 'K' }, { t: '1', sub: true }, { t: ' from ROI base (ml/min/g)' }] },
    { x: 41, y: 230, size: 29, rotate: true, parts: [{ t: 'K' }, { t: '1', sub: true }, { t: ' from pixel base (ml/min/g)' }] },
  ]);

makePanel('chartB', [k2BlobPoints, k2BandPoints, k2Fill, k2SpreadPoints, k2OutlierPoints],
  axis(8, k2Ticks, false, 65), axis(8, k2Ticks, true, 96),
  { left: 0, top: 50, right: 12, bottom: 0 },
  [
    { x: 136, y: 47, size: 36, parts: [{ t: '(B)' }] },
    { x: 285, y: 485, size: 27, parts: [{ t: 'k' }, { t: '2', sub: true }, { t: ' from ROI base (min' }, { t: '-1', sup: true }, { t: ')' }] },
    { x: 46, y: 228, size: 29, rotate: true, parts: [{ t: 'k' }, { t: '2', sub: true }, { t: ' from pixel base (min' }, { t: '-1', sup: true }, { t: ')' }] },
  ]);

makePanel('chartC', [vaBandPoints, vaBandFill, vaSpreadPoints, vaOutlierPoints],
  axis(0.5, vaTicks, false, 63), axis(0.5, vaTicks, true, 90),
  { left: 0, top: 34, right: 10, bottom: 0 },
  [
    { x: 127, y: 27, size: 36, parts: [{ t: '(C)' }] },
    { x: 280, y: 467, size: 27, parts: [{ t: 'V' }, { t: 'A', sub: true }, { t: ' from ROI base (ml/ml)' }] },
    { x: 41, y: 228, size: 29, rotate: true, parts: [{ t: 'V' }, { t: 'A', sub: true }, { t: ' from pixel base (ml/ml)' }] },
  ]);
</script>
</body>
</html>
